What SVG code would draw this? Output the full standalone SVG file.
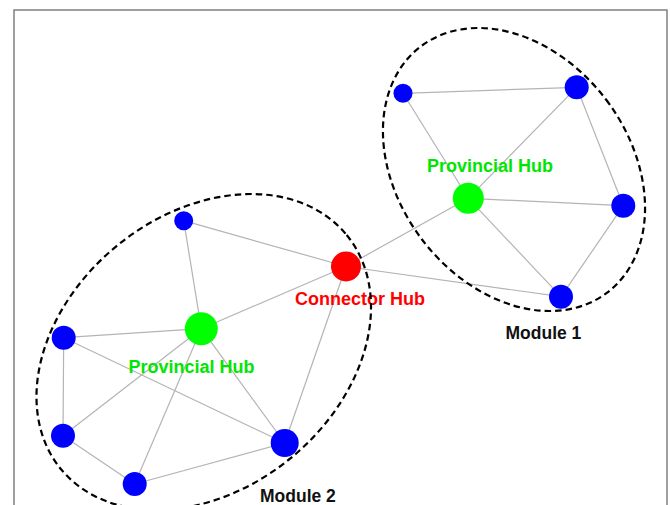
<svg xmlns="http://www.w3.org/2000/svg" width="670" height="505" viewBox="0 0 670 505">
  <style>
    .edge { stroke: #b4b4b4; stroke-width: 1.2; fill: none; }
    .peri { fill: #0000ff; }
    .prov { fill: #00ff00; }
    .conn { fill: #ff0000; }
    .lbl { font-family: "Liberation Sans", Arial, sans-serif; font-weight: bold; }
    .lbl-prov { fill: #00e600; font-size: 18px; }
    .lbl-conn { fill: #ff0000; font-size: 18px; }
    .lbl-mod { fill: #111111; font-size: 17.5px; }
    .module { fill: none; stroke: #000000; stroke-width: 2.2; stroke-dasharray: 6.5 4; }
  </style>

  <rect x="0" y="0" width="670" height="505" fill="#ffffff"/>
  <!-- plot frame -->
  <rect x="14" y="10" width="653" height="520" fill="none" stroke="#808080" stroke-width="1.5"/>

  <!-- connectors -->
  <g id="connectors">
    <!-- module 1 -->
    <line class="edge" x1="403" y1="93.3" x2="576.7" y2="87.3"/>
    <line class="edge" x1="403" y1="93.3" x2="468.3" y2="198.3"/>
    <line class="edge" x1="576.7" y1="87.3" x2="468.3" y2="198.3"/>
    <line class="edge" x1="576.7" y1="87.3" x2="623.3" y2="205.7"/>
    <line class="edge" x1="468.3" y1="198.3" x2="623.3" y2="205.7"/>
    <line class="edge" x1="468.3" y1="198.3" x2="561" y2="296.7"/>
    <line class="edge" x1="623.3" y1="205.7" x2="561" y2="296.7"/>
    <!-- between modules -->
    <line class="edge" x1="346" y1="266.5" x2="468.3" y2="198.3"/>
    <line class="edge" x1="346" y1="266.5" x2="561" y2="296.7"/>
    <!-- module 2 -->
    <line class="edge" x1="183.7" y1="220.7" x2="346" y2="266.5"/>
    <line class="edge" x1="183.7" y1="220.7" x2="201.3" y2="328.7"/>
    <line class="edge" x1="201.3" y1="328.7" x2="346" y2="266.5"/>
    <line class="edge" x1="63.7" y1="337.7" x2="201.3" y2="328.7"/>
    <line class="edge" x1="63.7" y1="337.7" x2="284.7" y2="443"/>
    <line class="edge" x1="63.7" y1="337.7" x2="63" y2="435.7"/>
    <line class="edge" x1="63" y1="435.7" x2="201.3" y2="328.7"/>
    <line class="edge" x1="63" y1="435.7" x2="134.7" y2="484"/>
    <line class="edge" x1="134.7" y1="484" x2="201.3" y2="328.7"/>
    <line class="edge" x1="134.7" y1="484" x2="284.7" y2="443"/>
    <line class="edge" x1="201.3" y1="328.7" x2="284.7" y2="443"/>
    <line class="edge" x1="284.7" y1="443" x2="346" y2="266.5"/>
  </g>

  <!-- module 1 nodes -->
  <g id="m1-n1"><circle class="peri" cx="403" cy="93.3" r="9.5"/></g>
  <g id="m1-n2"><circle class="peri" cx="576.7" cy="87.3" r="12"/></g>
  <g id="m1-n3"><circle class="peri" cx="623.3" cy="205.7" r="12"/></g>
  <g id="m1-n4"><circle class="peri" cx="561" cy="296.7" r="12"/></g>
  <g id="m1-hub">
    <circle class="prov" cx="468.3" cy="198.3" r="15.5"/>
    <text class="lbl lbl-prov" x="427" y="171.7">Provincial Hub</text>
  </g>

  <!-- module 2 nodes -->
  <g id="m2-n1"><circle class="peri" cx="183.7" cy="220.7" r="9.5"/></g>
  <g id="m2-n2"><circle class="peri" cx="63.7" cy="337.7" r="12"/></g>
  <g id="m2-n3"><circle class="peri" cx="63" cy="435.7" r="12"/></g>
  <g id="m2-n4"><circle class="peri" cx="134.7" cy="484" r="12"/></g>
  <g id="m2-n5"><circle class="peri" cx="284.7" cy="443" r="14"/></g>
  <g id="m2-hub">
    <circle class="prov" cx="201.3" cy="328.7" r="16.5"/>
    <text class="lbl lbl-prov" x="128.5" y="373.3">Provincial Hub</text>
  </g>

  <!-- connector hub -->
  <g id="connector-hub">
    <circle class="conn" cx="346" cy="266.5" r="15"/>
    <text class="lbl lbl-conn" x="295" y="305">Connector Hub</text>
  </g>

  <!-- module outlines -->
  <g id="module-1">
    <ellipse class="module" cx="514" cy="169.5" rx="115.6" ry="154.4" transform="rotate(-37.1 514 169.5)"/>
    <text class="lbl lbl-mod" x="505.5" y="339">Module 1</text>
  </g>
  <g id="module-2">
    <ellipse class="module" cx="203.75" cy="352" rx="184.7" ry="137.2" transform="rotate(-39.3 203.75 352)"/>
    <text class="lbl lbl-mod" x="260" y="502">Module 2</text>
  </g>
</svg>
